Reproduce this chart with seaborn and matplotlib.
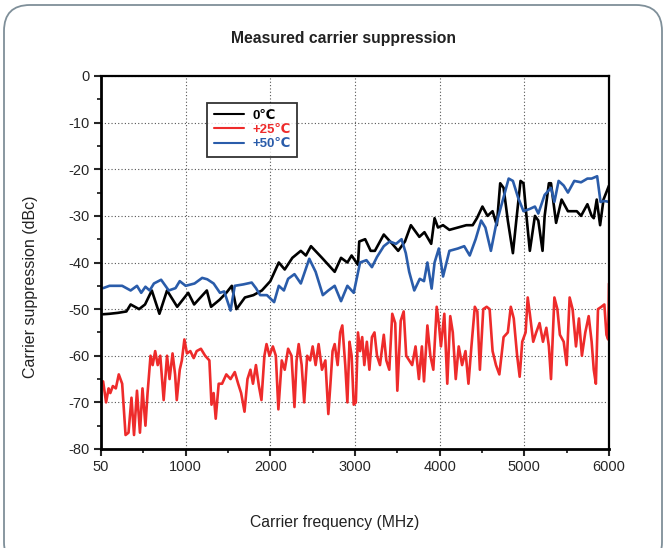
import matplotlib

matplotlib.use("Agg")

import matplotlib.pyplot as plt
import pandas as pd
import seaborn as sns
from matplotlib.patches import FancyBboxPatch
from matplotlib.ticker import MultipleLocator

# 0 degC (black)
freq_0c = [25, 100, 200, 300, 350, 450, 520, 600, 690, 780, 900, 1030, 1100, 1250, 1300,
           1400, 1480, 1545, 1600, 1700, 1800, 1900, 2000, 2050, 2100, 2170, 2260, 2360,
           2420, 2480, 2610, 2760, 2835, 2910, 2960, 3035, 3050, 3120, 3185, 3235, 3340,
           3440, 3510, 3590, 3660, 3760, 3820, 3900, 3940, 3980, 4040, 4115, 4215, 4315,
           4390, 4440, 4505, 4565, 4625, 4675, 4715, 4755, 4805, 4865, 4905, 4955, 4990,
           5025, 5065, 5125, 5165, 5215, 5240, 5290, 5315, 5375, 5440, 5515, 5620, 5670,
           5745, 5795, 5820, 5855, 5895, 5935, 6000]
supp_0c = [-51.1, -51.0, -50.8, -50.5, -49.0, -50.0, -49.0, -46.0, -51.0, -46.0, -49.5,
           -46.5, -49.0, -46.0, -49.5, -48.0, -46.5, -45.0, -50.0, -47.5, -47.0, -46.0,
           -44.0, -42.0, -40.0, -41.5, -39.0, -37.5, -38.5, -36.5, -39.0, -42.0, -39.0,
           -40.0, -38.5, -40.5, -35.5, -35.0, -37.5, -37.5, -34.0, -36.0, -37.5, -35.5,
           -32.0, -34.5, -33.5, -36.0, -30.5, -32.5, -32.0, -33.0, -32.5, -32.0, -32.0,
           -30.5, -28.0, -30.0, -29.0, -32.0, -23.0, -24.0, -31.0, -38.0, -31.0, -22.5,
           -23.0, -30.0, -37.5, -30.0, -31.0, -37.5, -30.0, -23.0, -23.0, -31.5, -26.5,
           -29.0, -29.0, -30.0, -27.5, -30.0, -30.5, -26.5, -32.0, -26.5, -23.5]

# +25 degC (red)
freq_25c = [25, 60, 90, 110, 140, 175, 210, 250, 290, 325, 360, 390, 425, 460, 490, 525,
            550, 585, 610, 640, 670, 700, 740, 780, 810, 845, 875, 895, 930, 955, 985,
            1015, 1055, 1095, 1130, 1180, 1230, 1280, 1305, 1330, 1355, 1390, 1430, 1480,
            1530, 1580, 1620, 1655, 1695, 1730, 1765, 1795, 1830, 1865, 1895, 1930, 1955,
            1990, 2030, 2065, 2095, 2135, 2170, 2210, 2250, 2285, 2310, 2335, 2370, 2400,
            2435, 2470, 2500, 2535, 2570, 2610, 2650, 2685, 2710, 2735, 2760, 2795, 2825,
            2850, 2885, 2910, 2935, 2960, 2985, 3010, 3035, 3060, 3085, 3110, 3140, 3170,
            3200, 3230, 3260, 3295, 3340, 3370, 3405, 3440, 3475, 3500, 3540, 3575, 3605,
            3640, 3675, 3715, 3755, 3790, 3815, 3855, 3890, 3925, 3965, 3990, 4015, 4055,
            4090, 4125, 4155, 4190, 4225, 4265, 4305, 4340, 4375, 4415, 4445, 4475, 4515,
            4555, 4590, 4625, 4665, 4705, 4755, 4805, 4840, 4875, 4915, 4945, 4975, 5015,
            5040, 5065, 5105, 5140, 5180, 5220, 5260, 5290, 5315, 5355, 5390, 5420, 5465,
            5500, 5535, 5570, 5610, 5645, 5680, 5720, 5760, 5795, 5820, 5845, 5870, 5910,
            5945, 5970, 5990, 6000]
supp_25c = [-65.5, -70.0, -67.0, -68.0, -66.5, -67.0, -64.0, -66.0, -77.0, -76.5, -69.0,
            -77.0, -67.5, -76.5, -67.0, -75.0, -68.0, -60.0, -62.0, -59.0, -62.0, -60.0,
            -69.5, -60.0, -65.0, -59.5, -64.0, -69.5, -63.0, -61.0, -56.5, -59.5, -59.0,
            -60.5, -59.0, -58.5, -60.0, -61.0, -70.5, -68.0, -73.5, -66.0, -66.0, -64.0,
            -65.0, -63.5, -66.0, -68.0, -72.0, -65.0, -63.0, -66.0, -62.0, -66.5, -69.5,
            -60.0, -57.5, -60.0, -58.0, -60.0, -71.5, -61.0, -63.0, -58.5, -60.0, -71.0,
            -61.0, -57.5, -62.0, -70.0, -60.0, -61.0, -58.0, -62.0, -57.5, -63.0, -61.0,
            -72.5, -66.0, -59.0, -57.5, -62.0, -55.0, -53.5, -62.0, -70.0, -57.0, -60.0,
            -70.5, -70.0, -55.0, -59.0, -56.0, -62.0, -57.0, -63.0, -56.0, -55.0, -60.0,
            -62.0, -55.5, -61.0, -63.0, -51.0, -53.0, -67.5, -52.5, -50.5, -60.0, -61.0,
            -62.0, -58.0, -65.0, -58.0, -65.5, -53.5, -60.0, -63.0, -49.5, -53.0, -58.0,
            -51.0, -66.0, -51.5, -55.0, -65.0, -58.0, -62.0, -59.0, -66.0, -58.0, -49.5,
            -50.5, -63.0, -50.0, -49.5, -50.0, -59.0, -62.0, -64.0, -56.0, -55.0, -49.5,
            -52.0, -60.0, -64.5, -57.0, -55.0, -47.5, -51.0, -57.0, -55.0, -53.0, -57.0,
            -54.0, -58.0, -65.0, -47.5, -50.0, -55.5, -57.0, -62.0, -47.5, -50.0, -58.0,
            -52.0, -60.0, -55.0, -51.5, -57.0, -63.0, -66.0, -50.0, -49.5, -49.0, -55.5,
            -56.5, -44.5]

# +50 degC (blue)
freq_50c = [25, 100, 250, 350, 425, 475, 525, 575, 625, 710, 800, 880, 930, 1000, 1105,
            1195, 1255, 1330, 1405, 1455, 1530, 1580, 1680, 1780, 1830, 1880, 1960, 2005,
            2045, 2100, 2160, 2210, 2285, 2360, 2460, 2535, 2620, 2685, 2760, 2835, 2910,
            2985, 3060, 3135, 3200, 3260, 3340, 3410, 3485, 3550, 3600, 3640, 3700, 3765,
            3815, 3855, 3905, 3940, 3990, 4040, 4115, 4215, 4290, 4355, 4425, 4490, 4540,
            4605, 4665, 4740, 4815, 4865, 4925, 4990, 5065, 5125, 5165, 5240, 5315, 5355,
            5405, 5465, 5515, 5590, 5670, 5745, 5795, 5860, 5900, 5945, 6000]
supp_50c = [-45.5, -45.0, -45.0, -46.0, -45.0, -46.5, -45.2, -46.0, -44.5, -43.7, -46.0,
            -45.5, -44.0, -45.0, -44.5, -43.3, -43.6, -44.5, -46.5, -46.2, -50.3, -45.0,
            -44.7, -44.3, -45.5, -47.0, -47.0, -47.8, -48.5, -45.0, -46.0, -43.5, -42.5,
            -44.5, -39.2, -42.0, -47.0, -46.0, -45.0, -48.3, -45.0, -46.5, -40.0, -39.5,
            -41.0, -38.8, -36.5, -35.5, -36.0, -35.0, -38.0, -42.0, -46.0, -43.5, -44.0,
            -40.0, -45.6, -40.0, -37.0, -43.0, -37.5, -37.0, -36.5, -38.5, -35.0, -31.0,
            -32.5, -37.5, -32.0, -27.0, -22.0, -22.5, -26.0, -29.0, -28.5, -28.0, -29.5,
            -25.5, -24.0, -27.0, -22.5, -23.5, -25.0, -22.5, -22.8, -22.0, -22.0, -21.5,
            -27.0, -26.8, -27.0]

series_labels = ["0\u2103", "+25\u2103", "+50\u2103"]
series_colors = ["#000000", "#ee2b2b", "#2a5caa"]
x_ticks = [0, 1000, 2000, 3000, 4000, 5000, 6000]
x_tick_labels = ["50", "1000", "2000", "3000", "4000", "5000", "6000"]
y_ticks = [0, -10, -20, -30, -40, -50, -60, -70, -80]

df = pd.concat([
    pd.DataFrame({"freq": freq_0c, "supp": supp_0c, "temp": series_labels[0]}),
    pd.DataFrame({"freq": freq_25c, "supp": supp_25c, "temp": series_labels[1]}),
    pd.DataFrame({"freq": freq_50c, "supp": supp_50c, "temp": series_labels[2]}),
], ignore_index=True)

sns.set_style("ticks")
plt.rcParams["font.family"] = ["Liberation Sans", "DejaVu Sans"]
plt.rcParams["axes.unicode_minus"] = False

fig = plt.figure(figsize=(6.65, 5.48), dpi=100)
fig.patch.set_facecolor("white")

# rounded panel outline (display pixels, partly below the canvas)
frame = FancyBboxPatch((4, -20), 658, 548 - 5 + 20, transform=None,
                       boxstyle="round,pad=0,rounding_size=26",
                       facecolor="none", edgecolor="#7f8f99", linewidth=1.3)
fig.patches.append(frame)

ax = fig.add_axes([101 / 665, 1 - 449 / 548, 508 / 665, 373 / 548])

palette = dict(zip(series_labels, series_colors))
sns.lineplot(data=df, x="freq", y="supp", hue="temp", palette=palette,
             estimator=None, sort=False, linewidth=1.9, ax=ax, legend=False)

ax.set_xlim(0, 6000)
ax.set_ylim(-80, 0)
ax.set_xticks(x_ticks)
ax.set_xticklabels(x_tick_labels)
ax.set_yticks(y_ticks)
ax.xaxis.set_minor_locator(MultipleLocator(500))
ax.yaxis.set_minor_locator(MultipleLocator(5))
ax.tick_params(axis="both", which="major", length=5, width=1.5, direction="out",
               labelsize=10.5, pad=3)
ax.tick_params(axis="both", which="minor", length=3, width=1.3, direction="out")
ax.grid(True, which="major", linestyle=(0, (1, 2)), color="#555555", linewidth=0.8)
for side in ["left", "bottom"]:
    ax.spines[side].set_linewidth(2.0)
for side in ["top", "right"]:
    ax.spines[side].set_linewidth(1.6)
for s in ax.spines.values():
    s.set_color("black")
ax.set_xlabel("")
ax.set_ylabel("")

handles = [plt.Line2D([], [], color=c, linewidth=1.5) for c in series_colors]
leg = ax.legend(handles, series_labels, loc="upper left", bbox_to_anchor=(0.209, 0.928),
                borderaxespad=0, frameon=True, fancybox=False,
                handlelength=2.3, handletextpad=0.6, labelspacing=0.15,
                borderpad=0.5, prop={"weight": "bold", "size": 9.5})
leg.get_frame().set_edgecolor("black")
leg.get_frame().set_linewidth(1.3)
for txt, c in zip(leg.get_texts(), series_colors):
    txt.set_color(c)

fig.text(343 / 665, 1 - 38 / 548, "Measured carrier suppression", ha="center",
         va="center", fontsize=11.3, fontweight="bold", color="#222222")
fig.text(335 / 665, 1 - 523 / 548, "Carrier frequency (MHz)", ha="center",
         va="center", fontsize=11.3, color="#222222")
fig.text(31 / 665, 1 - 287 / 548, "Carrier suppression (dBc)", ha="center",
         va="center", rotation=90, fontsize=11.5, color="#222222")

fig.savefig("out.png", dpi=100)
